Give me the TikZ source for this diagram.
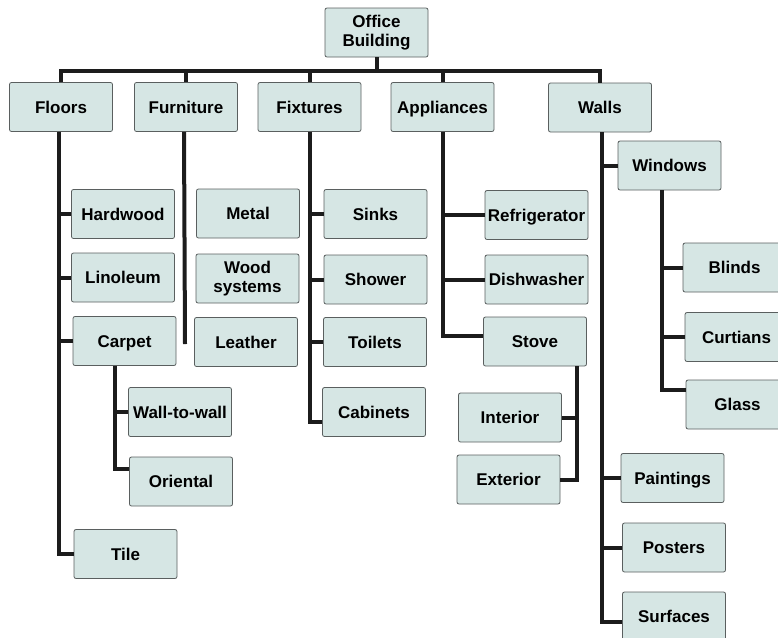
\documentclass[tikz,border=0pt]{standalone}
\usepackage{fontspec}
\setmainfont{Liberation Sans}
\usetikzlibrary{calc, positioning}
\definecolor{boxfill}{RGB}{214,230,228}
\definecolor{boxline}{RGB}{90,95,95}
\definecolor{stemc}{RGB}{28,28,28}
\tikzstyle{item}=[rectangle, draw=boxline, fill=boxfill, rounded corners=2pt, line width=0.8pt, minimum width=103pt, minimum height=49pt, inner sep=0pt, align=center, text height=13pt, text depth=1pt, font=\fontsize{17}{19}\selectfont\bfseries]
\tikzstyle{twoline}=[text height=, text depth=]
\tikzstyle{branch}=[draw=stemc, line width=4pt]

\begin{document}
\begin{tikzpicture}[x=1pt, y=-1pt]
\useasboundingbox (0,0) rectangle (778,637);
\clip (0,0) rectangle (778,637);
\coordinate (top) at (376.5,71); \coordinate (fend) at (185,344);

\tikzstyle{every node}=[item];
\node [twoline] (ob) at (376.5,32.5) {Office\\Building};
\node (floors) at (61,107) {Floors};\node (furniture) at (186,107) {Furniture};
\node (fixtures) at (309.5,107) {Fixtures};\node (appliances) at (442.5,107) {Appliances};
\node (walls) at (600,107.5) {Walls};\node (windows) at (669.5,165.5) {Windows};
\node (hardwood) at (123,214) {Hardwood};\node (linoleum) at (123,277.5) {Linoleum};
\node (carpet) at (124.5,341) {Carpet};\node (tile) at (125.5,554) {Tile};
\node (walltowall) at (180,412) {Wall-to-wall};\node (oriental) at (181,481.5) {Oriental};
\node (metal) at (248,213.5) {Metal};\node [twoline] (wood) at (247.5,278.5) {Wood\\systems};
\node (leather) at (246,342) {Leather};
\node (sinks) at (375.5,214) {Sinks};\node (shower) at (375.5,279.5) {Shower};
\node (toilets) at (375,342) {Toilets};\node (cabinets) at (374,412) {Cabinets};
\node (refrig) at (536.5,215) {Refrigerator};\node (dish) at (536.5,279.5) {Dishwasher};
\node (stove) at (535,341.5) {Stove};
\node (interior) at (510,417.5) {Interior};\node (exterior) at (508.5,479.5) {Exterior};
\node (blinds) at (734.5,267.5) {Blinds};\node (curtians) at (736.5,337) {Curtians};
\node (glass) at (737.5,404.5) {Glass};
\node (paintings) at (672.5,478) {Paintings};\node (posters) at (674,547.5) {Posters};
\node (surfaces) at (674,616.5) {Surfaces};

\draw [branch] (ob.south) -- (top);
\foreach \n in {floors,furniture,fixtures,appliances,walls} \draw [branch] (\n.north) |- (top);
\foreach \n in {hardwood,linoleum,carpet,tile} \draw [branch] ([xshift=-2]floors.south) |- (\n.west);
\draw [branch] ([xshift=-10]carpet.south) |- (walltowall.west);
\draw [branch] ([xshift=-10]carpet.south) |- ([yshift=13]oriental.west);
\draw [branch] ([xshift=-2]furniture.south) -- (fend);
\foreach \n in {sinks,shower,toilets} \draw [branch] (fixtures.south) |- (\n.west);
\draw [branch] (fixtures.south) |- ([yshift=-10]cabinets.west);
\path [branch] (appliances.south) |- (refrig.west);\path [branch] (appliances.south) |- (dish.west);
\path [branch] (appliances.south) |- ([yshift=6]stove.west);
\path [branch] ([xshift=-10]stove.south east) |- (interior.east);
\path [branch] ([xshift=-10]stove.south east) |- (exterior.east);
\foreach \n in {windows,paintings,posters} \draw [branch] ([xshift=2]walls.south) |- (\n.west);
\draw [branch] ([xshift=2]walls.south) |- ([yshift=-5.5]surfaces.west);
\foreach \n in {blinds,curtians} \draw [branch] ([xshift=-7.5]windows.south) |- (\n.west);
\draw [branch] ([xshift=-7.5]windows.south) |- ([yshift=15]glass.west);
\end{tikzpicture}
\end{document}
